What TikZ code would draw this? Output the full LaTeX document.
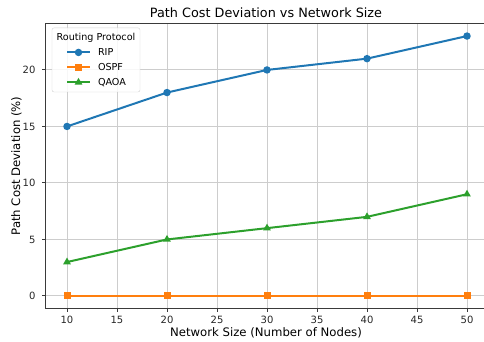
\documentclass[tikz,border=0pt]{standalone}
\usepackage{fontspec}
\setmainfont{DejaVu Sans}
\definecolor{ripblue}{HTML}{1F77B4}
\definecolor{ospforange}{HTML}{FF7F0E}
\definecolor{qaoagreen}{HTML}{2CA02C}
\definecolor{gridgray}{HTML}{CDCDCD}
\definecolor{spinegray}{HTML}{3A3A3A}

\tikzset{
  gridline/.style={gridgray, line width=1pt},
  spine/.style={spinegray, line width=1pt},
  series/.style={line width=2pt, line join=round},
  ticklabel/.style={font=\fontsize{10}{12}\selectfont, text=black!85},
  dotmark/.style={circle, fill, inner sep=0pt, minimum size=7.5pt},
  boxmark/.style={rectangle, fill, inner sep=0pt, minimum size=7pt},
  trimark/.style={regular polygon, regular polygon sides=3, fill, inner sep=0pt, minimum size=9pt}
}
\usetikzlibrary{shapes.geometric}

\begin{document}
\begin{tikzpicture}[x=10pt, y=11.3pt]
      \useasboundingbox (3.3,-4.07) rectangle (51.7,26.19);
      \clip (3.3,-4.07) rectangle (51.7,26.19);

      % grid
      \foreach \x in {10, 15, ..., 50}
        \draw[gridline] (\x,-1.15) -- (\x,24.15);
      \foreach \y in {0, 5, ..., 20}
        \draw[gridline] (7.8,\y) -- (52,\y);

      % spines and ticks
      \draw[spine] (52,24.15) -- (7.8,24.15) -- (7.8,-1.15) -- (52,-1.15);
      \foreach \x in {10, 15, ..., 50} {
        \draw[spine] (\x,-1.15) -- ++(0,-3.5pt);
        \node[ticklabel, anchor=north] (xt\x) at (\x,-1.5) {\x};
      }
      \foreach \y in {0, 5, ..., 20} {
        \draw[spine] (7.8,\y) -- ++(-3.5pt,0);
        \node[ticklabel, anchor=east] (yt\y) at (7.2,\y) {\y};
      }

      % series
      \draw[series, ripblue] (10,15) -- (20,18) -- (30,20) -- (40,21) -- (50,23);
      \foreach \x/\y in {10/15, 20/18, 30/20, 40/21, 50/23}
        \node[dotmark, ripblue] (rip\x) at (\x,\y) {};
      \draw[series, ospforange] (10,0) -- (50,0);
      \foreach \x in {10, 20, ..., 50}
        \node[boxmark, ospforange] (ospf\x) at (\x,0) {};
      \draw[series, qaoagreen] (10,3) -- (20,5) -- (30,6) -- (40,7) -- (50,9);
      \foreach \x/\y in {10/3, 20/5, 30/6, 40/7, 50/9}
        \node[trimark, qaoagreen] (qaoa\x) at (\x,\y) {};

      % labels
      \node[font=\fontsize{12.8}{15}\selectfont] (title) at (29.9,25.05) {Path Cost Deviation vs Network Size};
      \node[font=\fontsize{11.7}{14}\selectfont] (xlabel) at (29.9,-3.27) {Network Size (Number of Nodes)};
      \node[font=\fontsize{11.7}{14}\selectfont, rotate=90] (ylabel) at (4.95,11.5) {Path Cost Deviation (\%)};

      % legend
      \draw[gray!35, fill=white, fill opacity=0.85, rounded corners=2pt] (8.5,18.05) rectangle (17.3,23.72);
      \node[font=\fontsize{9.6}{11}\selectfont] (legtitle) at (12.9,22.85) {Routing Protocol};
      \foreach \name/\col/\mk/\y in {RIP/ripblue/dotmark/21.55, OSPF/ospforange/boxmark/20.23, QAOA/qaoagreen/trimark/18.9} {
        \draw[series, \col] (10,\y) -- (12.3,\y);
        \node[\mk, \col] (leg\name) at (11.15,\y) {};
        \node[font=\fontsize{9.6}{11}\selectfont, anchor=west] (legtxt\name) at (12.75,\y) {\name};
      }
    \end{tikzpicture}
\end{document}
